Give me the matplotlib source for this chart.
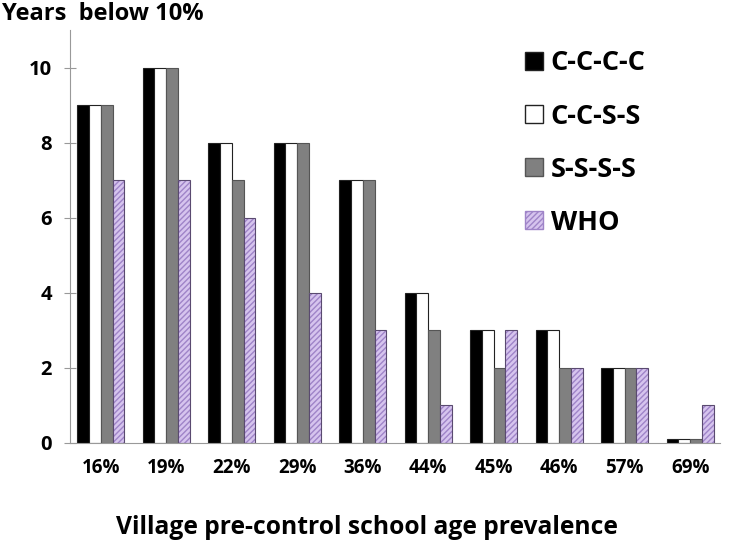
import numpy as np
import matplotlib
matplotlib.use('Agg')
import matplotlib.pyplot as plt
from matplotlib.patches import Patch

plt.rcParams['font.family'] = ['Open Sans', 'DejaVu Sans']
plt.rcParams['font.weight'] = 'bold'

categories = ['16%', '19%', '22%', '29%', '36%', '44%', '45%', '46%', '57%', '69%']
cccc = [9, 10, 8, 8, 7, 4, 3, 3, 2, 0.1]
ccss = [9, 10, 8, 8, 7, 4, 3, 3, 2, 0.1]
ssss = [9, 10, 7, 8, 7, 3, 2, 2, 2, 0.1]
who = [7, 7, 6, 4, 3, 1, 3, 2, 2, 1]

fig = plt.figure(figsize=(7.34, 5.54), dpi=100)
ax = fig.add_axes([0.0954, 0.2004, 0.885, 0.745])

x = np.arange(len(categories))
w = 0.18
edge = '#222222'
ax.bar(x - 1.5 * w, cccc, w, color='black', edgecolor=edge, linewidth=0.8)
ax.bar(x - 0.5 * w, ccss, w, color='white', edgecolor=edge, linewidth=0.8)
ax.bar(x + 0.5 * w, ssss, w, color='#808080', edgecolor='#555555', linewidth=0.8)
# hatched purple bars: hatch drawn in edge colour, outline drawn separately
ax.bar(x + 1.5 * w, who, w, color='#d6c4ee', edgecolor='#9f84c8', hatch='//////', linewidth=0)
ax.bar(x + 1.5 * w, who, w, fill=False, edgecolor='#5a4a70', linewidth=0.8)

ax.set_xlim(-0.47, 9.45)
ax.set_ylim(0, 11)
ax.set_yticks([0, 2, 4, 6, 8, 10])
ax.set_xticks(x)
ax.set_xticklabels(categories, fontsize=13.5, fontweight='bold')
ax.tick_params(axis='y', labelsize=14.5, direction='inout', length=8, color='#999999', pad=9)
ax.tick_params(axis='x', length=0, pad=11)
for s in ['top', 'right']:
    ax.spines[s].set_visible(False)
ax.spines['left'].set_color('#999999')
ax.spines['bottom'].set_color('#999999')

fig.text(0.003, 0.975, 'Years  below 10%', fontsize=17, fontweight='bold', va='center', ha='left')
fig.text(0.5, 0.048, 'Village pre-control school age prevalence', fontsize=17.7,
         fontweight='bold', ha='center', va='center')

handles = [Patch(facecolor='black', edgecolor=edge),
           Patch(facecolor='white', edgecolor=edge),
           Patch(facecolor='#808080', edgecolor='#555555'),
           Patch(facecolor='#d6c4ee', edgecolor='#9f84c8', hatch='//////')]
labels = ['C-C-C-C', 'C-C-S-S', 'S-S-S-S', 'WHO']
ax.legend(handles, labels, loc='upper left', bbox_to_anchor=(0.663, 1.01), frameon=False,
          prop={'size': 19.5, 'weight': 'bold'}, handlelength=0.65, handleheight=0.65,
          handletextpad=0.3, labelspacing=1.0)

fig.savefig('out.png', dpi=100)
